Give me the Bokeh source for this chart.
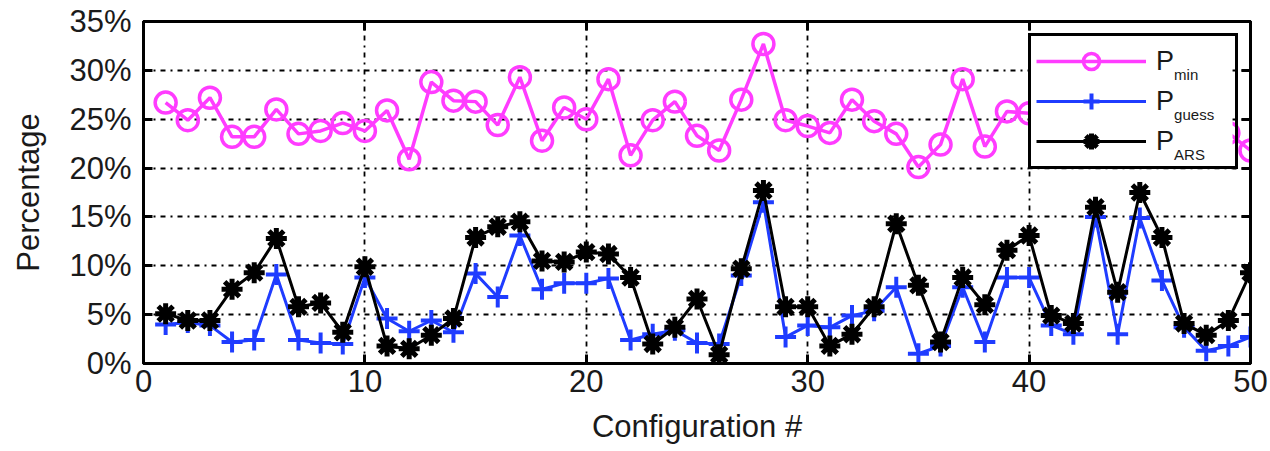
from bokeh.plotting import figure
from bokeh.models import (Range1d, FixedTicker, PrintfTickFormatter, LinearAxis,
                          CustomJSTickFormatter, Legend, LegendItem, Label, BoxAnnotation)
from bokeh.embed import file_html
from bokeh.resources import INLINE

configs = list(range(1, 51))
p_min = [26.7, 24.9, 27.2, 23.2, 23.2, 26.0, 23.5, 23.8, 24.6, 23.8,
         25.9, 20.9, 28.8, 26.9, 26.8, 24.4, 29.3, 22.8, 26.2, 25.0,
         29.1, 21.3, 24.9, 26.8, 23.3, 21.8, 27.0, 32.7, 24.9, 24.3,
         23.6, 27.0, 24.8, 23.5, 20.1, 22.4, 29.1, 22.2, 25.8, 25.6,
         25.0, 23.8, 26.5, 24.0, 27.0, 24.2, 22.8, 25.4, 23.6, 21.8]
p_guess = [4.0, 4.2, 3.9, 2.2, 2.4, 9.1, 2.4, 2.1, 2.0, 8.8,
           4.6, 3.3, 4.4, 3.2, 9.2, 6.8, 13.1, 7.6, 8.2, 8.2,
           8.7, 2.4, 3.0, 3.4, 2.1, 2.0, 9.0, 16.5, 2.7, 3.9,
           3.7, 4.9, 5.4, 7.8, 1.0, 1.8, 7.8, 2.2, 8.8, 8.8,
           3.9, 3.0, 15.0, 3.0, 14.9, 8.5, 3.7, 1.3, 1.8, 2.7]
p_ars = [5.1, 4.4, 4.4, 7.6, 9.3, 12.8, 5.8, 6.2, 3.2, 9.9,
         1.8, 1.5, 2.9, 4.6, 12.9, 14.0, 14.5, 10.5, 10.4, 11.4,
         11.2, 8.8, 2.0, 3.7, 6.6, 0.9, 9.7, 17.7, 5.8, 5.8,
         1.8, 3.0, 5.8, 14.3, 8.0, 2.2, 8.8, 6.0, 11.6, 13.1,
         4.9, 4.1, 16.0, 7.3, 17.5, 12.9, 4.1, 2.9, 4.4, 9.3]
x_ticks = [0, 10, 20, 30, 40, 50]
y_ticks = [0, 5, 10, 15, 20, 25, 30, 35]
legend_subs = ["min", "guess", "ARS"]

PINK = "#ff3cff"
BLUE = "#1f3cff"
BLACK = "#000000"
FONT = "Liberation Sans"
TXT = "#1a1a1a"

p = figure(width=1270, height=451, output_backend="svg", toolbar_location=None,
           x_range=Range1d(0, 50), y_range=Range1d(0, 35),
           min_border_left=143, min_border_right=20, min_border_top=21,
           min_border_bottom=88)
p.background_fill_color = "white"
p.border_fill_color = "white"
p.outline_line_color = "black"
p.outline_line_width = 3

for ax, ticks in ((p.xaxis[0], x_ticks), (p.yaxis[0], y_ticks)):
    ax.ticker = FixedTicker(ticks=ticks)
    ax.major_tick_in = 9
    ax.major_tick_out = 0
    ax.minor_tick_line_color = None
    ax.axis_line_width = 3
    ax.major_tick_line_width = 3
    ax.major_label_text_font = FONT
    ax.major_label_text_font_size = "31px"
    ax.major_label_text_color = TXT
    ax.axis_label_text_font = FONT
    ax.axis_label_text_font_size = "31px"
    ax.axis_label_text_font_style = "normal"
    ax.axis_label_text_color = TXT

p.xaxis.axis_label = "Configuration #"
p.yaxis.axis_label = "Percentage"
p.yaxis.formatter = PrintfTickFormatter(format="%d%%")
p.xaxis.major_label_standoff = 6
p.yaxis.major_label_standoff = 12
p.xaxis.axis_label_standoff = 14
p.yaxis.axis_label_standoff = 20

blank = CustomJSTickFormatter(code="return ''")
top = LinearAxis(ticker=FixedTicker(ticks=x_ticks), formatter=blank,
                 major_tick_in=9, major_tick_out=0, major_tick_line_width=3,
                 minor_tick_line_color=None, axis_line_width=3, major_label_standoff=0)
right = LinearAxis(ticker=FixedTicker(ticks=y_ticks), formatter=blank,
                   major_tick_in=9, major_tick_out=0, major_tick_line_width=3,
                   minor_tick_line_color=None, axis_line_width=3, major_label_standoff=0)
p.add_layout(top, "above")
p.add_layout(right, "right")

for g, ticks in ((p.xgrid[0], x_ticks), (p.ygrid[0], y_ticks)):
    g.ticker = FixedTicker(ticks=ticks)
    g.grid_line_color = "black"
    g.grid_line_width = 1.8
    g.grid_line_dash = "5 5 2 5"

l1 = p.line(configs, p_min, line_color=PINK, line_width=3.5)
s1 = p.scatter(configs, p_min, marker="circle", size=21, line_color=PINK,
               line_width=3.5, fill_color=None)
l2 = p.line(configs, p_guess, line_color=BLUE, line_width=3)
s2 = p.scatter(configs, p_guess, marker="cross", size=21, line_color=BLUE, line_width=4)
l3 = p.line(configs, p_ars, line_color=BLACK, line_width=3)
s3 = p.scatter(configs, p_ars, marker="asterisk", size=21, line_color=BLACK, line_width=5)

# white backing of the legend box (the legend itself is drawn transparent on top)
p.add_layout(BoxAnnotation(left=39.97, right=49.19, bottom=19.86, top=33.16,
                           fill_color="white", fill_alpha=1.0, line_color=None))

legend = Legend(items=[LegendItem(label="P", renderers=[l1, s1]),
                       LegendItem(label="P", renderers=[l2, s2]),
                       LegendItem(label="P", renderers=[l3, s3])],
                location=(885, 194), glyph_width=110, glyph_height=40,
                spacing=0, padding=5, label_standoff=10, label_width=74,
                label_text_font=FONT, label_text_font_size="27px",
                label_text_color=TXT, border_line_color="black", border_line_alpha=1.0,
                border_line_width=3.5, background_fill_alpha=0.0, margin=0)
p.add_layout(legend, "center")

# subscripts of the legend labels, placed just after each "P"
sub_x = 46.55
sub_y = [29.55, 25.45, 21.35]
for sub, yy in zip(legend_subs, sub_y):
    p.add_layout(Label(x=sub_x, y=yy, text=sub, text_font=FONT,
                       text_font_size="15px", text_color=TXT,
                       text_baseline="middle"))

open("out.html", "w").write(file_html(p, INLINE))
